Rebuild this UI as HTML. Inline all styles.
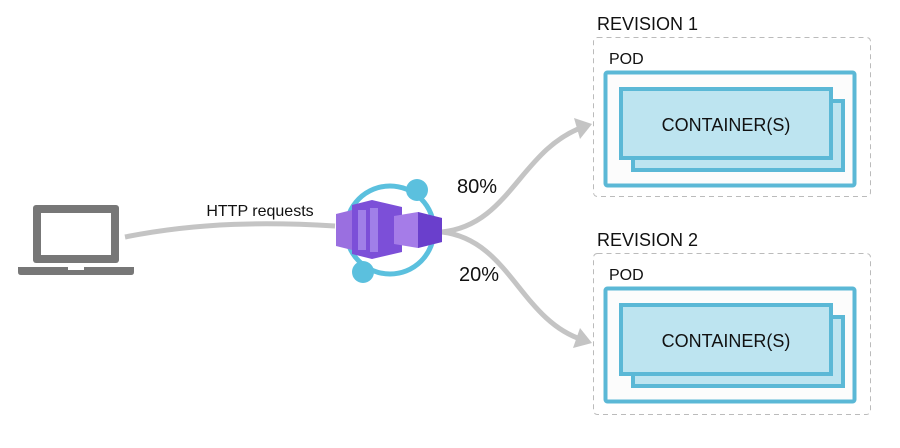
<!DOCTYPE html>
<html><head><style>
body{margin:0;background:#fff;width:900px;height:443px;overflow:hidden;font-family:"Liberation Sans",sans-serif}
</style></head><body>
<svg width="900" height="443" viewBox="0 0 900 443" xmlns="http://www.w3.org/2000/svg">
<!-- laptop -->
<rect x="33" y="205" width="86" height="58" rx="3" fill="#777"/>
<rect x="41" y="213" width="70" height="42" fill="#fff"/>
<path d="M18,267 H134 V272 Q134,275 131,275 H21 Q18,275 18,272 Z" fill="#777"/>
<rect x="68" y="267" width="16" height="3" fill="#fff"/>
<!-- request line -->
<path d="M125,237 C200,222 270,222 335,226" stroke="#c4c4c4" stroke-width="5" fill="none"/>
<text x="260" y="216" font-size="16" text-anchor="middle" fill="#111">HTTP requests</text>
<!-- arrows -->
<path d="M442,232 C510,225 520,150 583,127" stroke="#c4c4c4" stroke-width="5" fill="none"/>
<path d="M574,118 L592,124 L580,139 Z" fill="#c4c4c4"/>
<path d="M442,232 C510,240 520,320 583,340" stroke="#c4c4c4" stroke-width="5" fill="none"/>
<path d="M580,328 L592,343 L573,348 Z" fill="#c4c4c4"/>
<text x="477" y="193" font-size="20" text-anchor="middle" fill="#111">80%</text>
<text x="479" y="281" font-size="20" text-anchor="middle" fill="#111">20%</text>
<!-- icon -->
<circle cx="390" cy="230" r="44" fill="none" stroke="#5bc0de" stroke-width="5"/>
<circle cx="417" cy="190" r="11" fill="#5bc0de"/>
<circle cx="363" cy="272" r="11" fill="#5bc0de"/>
<polygon points="336,214 352,210 352,250 336,246" fill="#9a6fe0"/>
<polygon points="352,205 372,200 402,207 402,252 372,259 352,254" fill="#7c4fd8"/>
<rect x="358" y="210" width="8" height="40" fill="#a07fe8"/>
<rect x="370" y="208" width="8" height="44" fill="#a07fe8"/>
<polygon points="394,216 418,212 442,218 442,242 418,248 394,244" fill="#a57ce8"/>
<polygon points="418,212 442,218 442,242 418,248" fill="#6a3fcc"/>
<!-- revision 1 -->
<text x="597" y="30" font-size="18" fill="#111">REVISION 1</text>
<rect x="593.5" y="37.5" width="277" height="159" rx="4" fill="none" stroke="#bbb" stroke-dasharray="5,4"/>
<text x="609" y="64" font-size="16" fill="#111">POD</text>
<rect x="605.5" y="72.5" width="249" height="113" rx="2" fill="#fcfcfc" stroke="#5bb8d6" stroke-width="4"/>
<rect x="633" y="101" width="210" height="69" fill="#bde4f0" stroke="#5bb8d6" stroke-width="4"/>
<rect x="621" y="89" width="210" height="69" fill="#bde4f0" stroke="#5bb8d6" stroke-width="4"/>
<text x="726" y="131" font-size="18" text-anchor="middle" fill="#111">CONTAINER(S)</text>
<!-- revision 2 -->
<text x="597" y="246" font-size="18" fill="#111">REVISION 2</text>
<rect x="593.5" y="253.5" width="277" height="161" rx="4" fill="none" stroke="#bbb" stroke-dasharray="5,4"/>
<text x="609" y="280" font-size="16" fill="#111">POD</text>
<rect x="605.5" y="288.5" width="249" height="113" rx="2" fill="#fcfcfc" stroke="#5bb8d6" stroke-width="4"/>
<rect x="633" y="317" width="210" height="69" fill="#bde4f0" stroke="#5bb8d6" stroke-width="4"/>
<rect x="621" y="305" width="210" height="69" fill="#bde4f0" stroke="#5bb8d6" stroke-width="4"/>
<text x="726" y="347" font-size="18" text-anchor="middle" fill="#111">CONTAINER(S)</text>
</svg>
</body></html>
